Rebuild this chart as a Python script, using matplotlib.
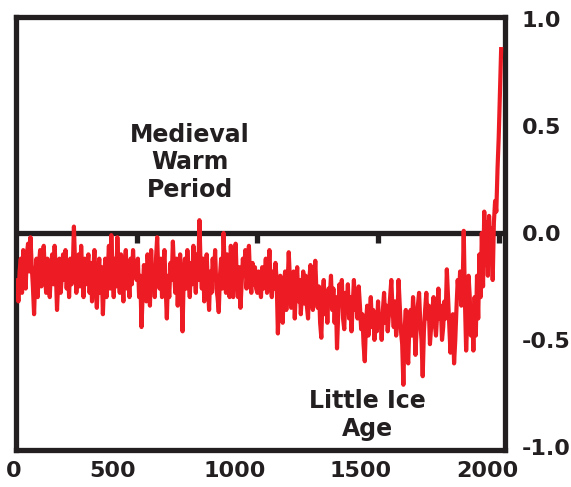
import matplotlib
matplotlib.use("Agg")
import matplotlib.pyplot as plt
import matplotlib.transforms as mtransforms
import numpy as np

# ------------------------------
# Data: temperature anomaly every 5 years
# ------------------------------
start_year = 0
step = 5
anomaly = [
    # 0-95
    -0.30, -0.22, -0.32, -0.18, -0.12, -0.28, -0.08, -0.20, -0.26, -0.10,
    -0.05, -0.18, -0.02, -0.15, -0.25, -0.38, -0.20, -0.12, -0.30, -0.15,
    # 100-195
    -0.08, -0.25, -0.10, -0.06, -0.20, -0.28, -0.12, -0.22, -0.30, -0.16,
    -0.10, -0.24, -0.06, -0.18, -0.36, -0.22, -0.12, -0.28, -0.20, -0.10,
    # 200-295
    -0.22, -0.08, -0.26, -0.15, -0.30, -0.12, -0.24, -0.18, 0.03, -0.15,
    -0.28, -0.20, -0.10, -0.25, -0.06, -0.20, -0.30, -0.12, -0.24, -0.16,
    # 300-395
    -0.10, -0.28, -0.14, -0.32, -0.18, -0.08, -0.24, -0.35, -0.20, -0.12,
    -0.28, -0.16, -0.38, -0.22, -0.12, -0.30, -0.18, -0.06, -0.26, -0.01,
    # 400-495
    -0.18, -0.30, -0.12, -0.25, -0.02, -0.20, -0.28, -0.10, -0.22, -0.32,
    -0.15, -0.08, -0.26, -0.18, -0.30, -0.12, -0.24, -0.08, -0.20, -0.14,
    # 500-595
    -0.22, -0.12, -0.30, -0.20, -0.44, -0.28, -0.15, -0.22, -0.32, -0.10,
    -0.20, -0.34, -0.08, -0.24, -0.16, -0.30, -0.12, -0.02, -0.20, -0.26,
    # 600-695
    -0.12, -0.30, -0.18, -0.08, -0.25, -0.40, -0.20, -0.30, -0.14, -0.22,
    -0.04, -0.18, -0.28, -0.12, -0.34, -0.20, -0.10, -0.24, -0.46, -0.20,
    # 700-795
    -0.12, -0.26, -0.08, -0.20, -0.30, -0.14, -0.24, -0.06, -0.18, -0.28,
    -0.10, -0.22, 0.06, -0.16, -0.26, -0.12, -0.32, -0.20, -0.10, -0.24,
    # 800-895
    -0.36, -0.18, -0.28, -0.12, -0.22, -0.08, -0.26, -0.30, -0.37, -0.20,
    -0.12, -0.26, 0.00, -0.18, -0.28, -0.10, -0.22, -0.30, -0.06, -0.20,
    # 900-995
    -0.30, -0.14, -0.05, -0.22, -0.30, -0.16, -0.35, -0.24, -0.12, -0.20,
    -0.08, -0.26, -0.18, -0.06, -0.22, -0.28, -0.14, -0.24, -0.16, -0.26,
    # 1000-1095
    -0.28, -0.18, -0.24, -0.30, -0.16, -0.26, -0.22, -0.12, -0.28, -0.20,
    -0.08, -0.24, -0.30, -0.18, -0.26, -0.14, -0.22, -0.47, -0.30, -0.20,
    # 1100-1195
    -0.32, -0.42, -0.24, -0.18, -0.36, -0.26, -0.09, -0.22, -0.35, -0.28,
    -0.18, -0.40, -0.26, -0.16, -0.32, -0.22, -0.38, -0.28, -0.18, -0.33,
    # 1200-1295
    -0.20, -0.34, -0.40, -0.22, -0.15, -0.30, -0.36, -0.24, -0.13, -0.28,
    -0.35, -0.25, -0.42, -0.49, -0.30, -0.22, -0.38, -0.28, -0.42, -0.26,
    # 1300-1395
    -0.30, -0.20, -0.36, -0.26, -0.42, -0.30, -0.54, -0.38, -0.24, -0.32,
    -0.22, -0.40, -0.45, -0.28, -0.36, -0.24, -0.40, -0.30, -0.46, -0.34,
    # 1400-1495
    -0.22, -0.36, -0.28, -0.40, -0.25, -0.34, -0.45, -0.38, -0.52, -0.60,
    -0.42, -0.34, -0.48, -0.38, -0.30, -0.44, -0.36, -0.50, -0.40, -0.46,
    # 1500-1595
    -0.32, -0.44, -0.38, -0.50, -0.36, -0.28, -0.42, -0.34, -0.46, -0.38,
    -0.30, -0.22, -0.36, -0.44, -0.32, -0.48, -0.40, -0.22, -0.34, -0.46,
    # 1600-1695
    -0.52, -0.71, -0.45, -0.36, -0.55, -0.61, -0.42, -0.36, -0.48, -0.30,
    -0.40, -0.57, -0.44, -0.34, -0.28, -0.42, -0.50, -0.67, -0.46, -0.36,
    # 1700-1795
    -0.28, -0.40, -0.34, -0.52, -0.44, -0.36, -0.30, -0.42, -0.48, -0.38,
    -0.26, -0.40, -0.34, -0.50, -0.44, -0.32, -0.40, -0.17, -0.30, -0.42,
    # 1800-1895
    -0.56, -0.44, -0.38, -0.61, -0.50, -0.35, -0.22, -0.30, -0.18, -0.34,
    -0.28, 0.01, -0.32, -0.55, -0.40, -0.20, -0.30, -0.48, -0.36, -0.55,
    # 1900-1995
    -0.30, -0.48, -0.20, -0.40, -0.10, -0.30, 0.00, -0.25, 0.10, -0.15,
    0.05, -0.20, 0.08, -0.10, 0.02, -0.22, 0.05, 0.15, 0.10, 0.30,
    # 2000-2010
    0.45, 0.65, 0.86,
]
years = start_year + step * np.arange(len(anomaly))

x_ticks = [0, 500, 1000, 1500, 2000]
x_ticklabels = ["0", "500", "1000", "1500", "2000"]
y_ticks = [1.0, 0.5, 0.0, -0.5, -1.0]
y_ticklabels = ["1.0", "0.5", "0.0", "-0.5", "-1.0"]
zero_marks = [500, 1000, 1500, 2000]

# horizontal nudge of each bottom label, in pixels (labels sit left of the marks)
label_nudge_px = [-2, -24, -23, -17, -11]

# ------------------------------
# Figure
# ------------------------------
plt.rcParams['font.family'] = ['DejaVu Sans']
plt.rcParams['font.weight'] = 'bold'

dark = '#231F20'
red = '#ED1C24'

fig = plt.figure(figsize=(5.71, 4.87), dpi=100)
ax = fig.add_axes([0.028, 0.076, 0.856, 0.889])

# zero line with small downward marks
ax.axhline(0, color=dark, lw=3.8, zorder=2)
ax.vlines(zero_marks, -0.045, 0, color=dark, lw=3.8, zorder=2)

ax.plot(years, anomaly, color=red, lw=3.0, solid_joinstyle='round', zorder=3)

ax.set_xlim(0, 2025)
ax.set_ylim(-1.015, 1.01)

for s in ax.spines.values():
    s.set_linewidth(3.8)
    s.set_color(dark)

ax.set_xticks(x_ticks)
ax.set_xticklabels(x_ticklabels, fontsize=16, fontweight='bold', color=dark)
ax.tick_params(axis='x', length=0, pad=8)
for lbl, dx in zip(ax.get_xticklabels(), label_nudge_px):
    shift = mtransforms.ScaledTranslation(dx / 100, 0, fig.dpi_scale_trans)
    lbl.set_transform(lbl.get_transform() + shift)

ax.yaxis.tick_right()
ax.set_yticks(y_ticks)
ax.set_yticklabels(y_ticklabels, fontsize=16, fontweight='bold', color=dark)
ax.tick_params(axis='y', length=0, pad=12)

ax.text(720, 0.33, "Medieval\nWarm\nPeriod", ha='center', va='center',
        fontsize=17, fontweight='bold', color=dark, linespacing=1.2)
ax.text(1456, -0.85, "Little Ice\nAge", ha='center', va='center',
        fontsize=17, fontweight='bold', color=dark, linespacing=1.2)

fig.savefig("out.png", dpi=100)
